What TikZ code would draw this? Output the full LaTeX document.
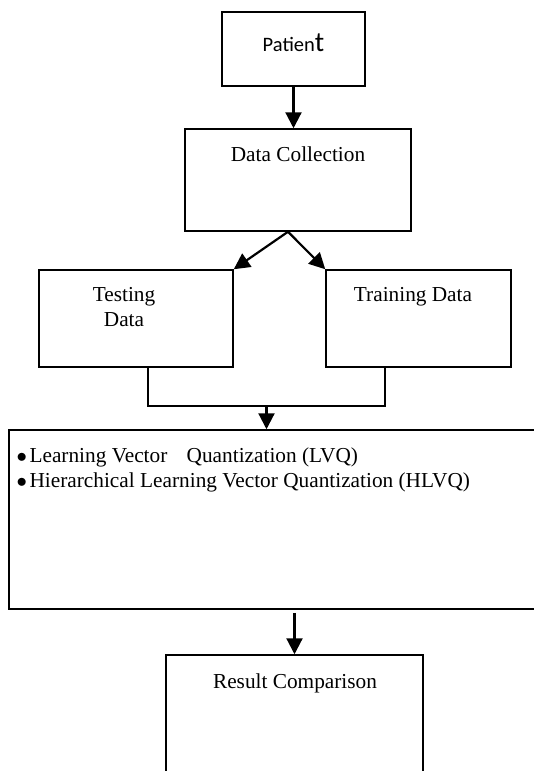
\documentclass[tikz,border=0pt]{standalone}
\usepackage{fontspec}
\setmainfont{Liberation Serif}
\newfontfamily\calibri{Carlito}
\usepackage{tikz}
\usetikzlibrary{arrows.meta,positioning,calc}

\tikzset{
    box/.style={draw=black, line width=1.5pt, inner sep=0pt},
    txt/.style={inner sep=0pt, anchor=base, font=\fontsize{21.3}{25}\selectfont},
    arr/.style={line width=2.2pt, -{Triangle[length=16pt,width=16pt]}},
    link/.style={line width=1.5pt}
}

\begin{document}
\begin{tikzpicture}[x=1pt, y=-1pt]
            \useasboundingbox (0,0) rectangle (533,771);

            % boxes, placed at the centres
            \node[box, minimum width=143pt, minimum height=74pt] (pat) at (293.5,49) {};
            \node[box, minimum width=226pt, minimum height=102pt] (dc) at (298,180) {};
            \node[box, minimum width=194pt, minimum height=97pt] (test) at (136,318.5) {};
            \node[box, minimum width=185pt, minimum height=97pt] (train) at (418.5,318.5) {};
            \node[box, minimum width=539pt, minimum height=179pt] (alg) at (278.5,519.5) {};
            \node[box, minimum width=257pt, minimum height=135pt] (res) at (294.5,722.5) {};

            % texts (base of a two-line node is its last line)
            \node[txt, font=\calibri\fontsize{20.5}{24}\selectfont] (pattext) at (293.5,51) {Patien{\fontsize{28}{30}\selectfont t}};
            \node[txt] (dctext) at (298,161) {Data Collection};
            \node[txt, align=center] (testtext) at (124,326) {Testing\\Data};
            \node[txt] (traintext) at (413,301) {Training Data};
            \node[txt, anchor=base west, align=left] (algtext) at (16.5,487) {$\bullet$\hspace{2.5pt}Learning Vector\hspace{14pt} Quantization (LVQ)\\$\bullet$\hspace{2.5pt}Hierarchical Learning Vector Quantization (HLVQ)};
            \node[txt] (restext) at (295,688) {Result Comparison};

            % connectors
            \coordinate (join) at (266.5,406);
            \draw[arr] (pat.south) -- (pat.south |- dc.north);
            \draw[arr] ([xshift=-10pt]dc.south) -- (test.north east);
            \draw[arr] ([xshift=-10pt]dc.south) -- (train.north west);
            \draw[link] ([xshift=12pt]test.south) |- (join);
            \draw[link] ([xshift=-33.5pt]train.south) |- (join);
            \draw[arr] (join) -- (join |- alg.north);
            \draw[arr] ([yshift=-3pt]res.north |- alg.south) -- (res.north);
        \end{tikzpicture}
\end{document}
